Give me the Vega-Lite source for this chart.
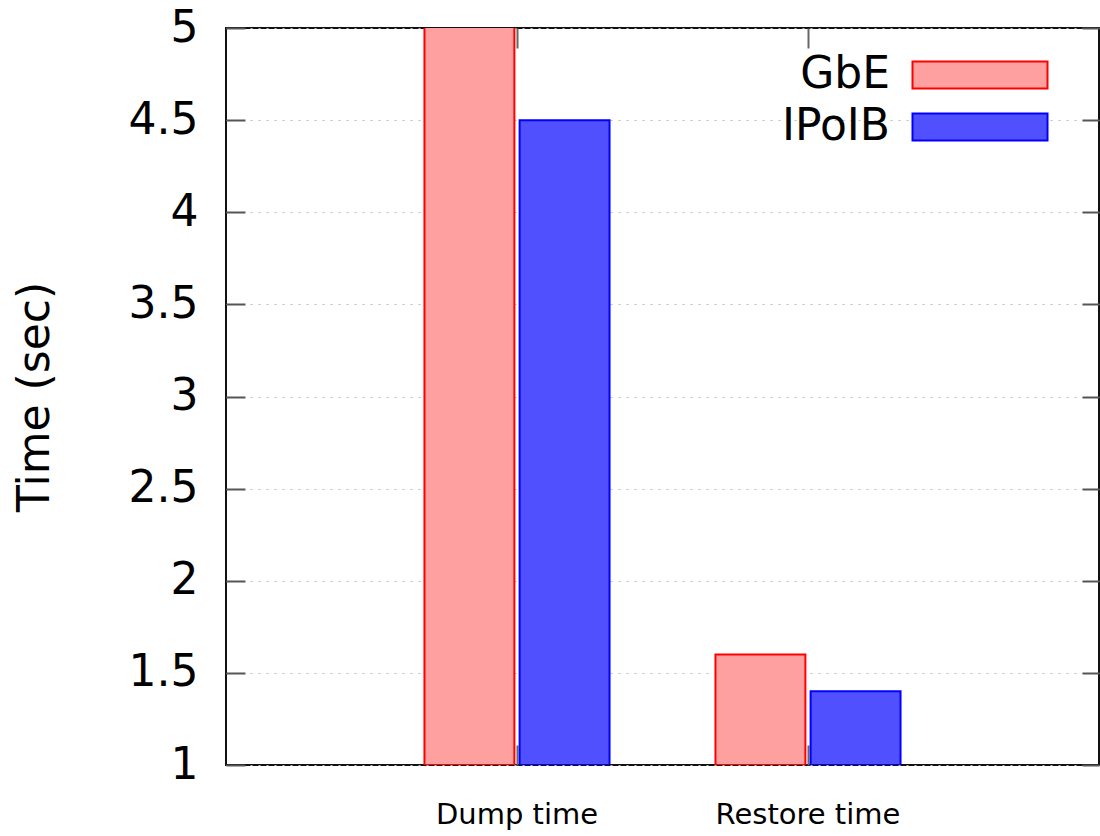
{
  "$schema": "https://vega.github.io/schema/vega-lite/v6.json",
  "width": 873,
  "height": 737,
  "autosize": {"type": "none"},
  "padding": {"left": 226, "top": 28, "right": 1, "bottom": 71},
  "background": "white",
  "config": {
    "view": {"stroke": "#111111", "strokeWidth": 2},
    "font": "DejaVu Sans"
  },
  "data": {
    "values": [
      {"category": "Dump time", "network": "GbE", "time": 5.3},
      {"category": "Dump time", "network": "IPoIB", "time": 4.5},
      {"category": "Restore time", "network": "GbE", "time": 1.6},
      {"category": "Restore time", "network": "IPoIB", "time": 1.4}
    ]
  },
  "resolve": {"axis": {"x": "independent", "y": "independent"}},
  "layer": [
    {
      "mark": {"type": "bar", "clip": true, "strokeWidth": 2, "fillOpacity": 1},
      "encoding": {
        "x": {
          "field": "category",
          "type": "nominal",
          "scale": {"paddingInner": 0.364, "paddingOuter": 0.682},
          "axis": {
            "orient": "bottom",
            "title": null,
            "domain": false,
            "tickSize": -20,
            "tickWidth": 2,
            "tickColor": "#666666",
            "labelFontSize": 29,
            "labelColor": "#000000",
            "labelPadding": 55,
            "labelAngle": 0,
            "labelLimit": 0
          }
        },
        "xOffset": {"field": "network", "type": "nominal", "scale": {"paddingInner": 0.055}},
        "y": {
          "field": "time",
          "type": "quantitative",
          "scale": {"domain": [1, 5], "nice": false, "zero": false},
          "axis": {
            "orient": "left",
            "values": [1, 1.5, 2, 2.5, 3, 3.5, 4, 4.5, 5],
            "format": "~g",
            "domain": false,
            "tickSize": -19,
            "tickWidth": 2,
            "tickColor": "#555555",
            "labelFontSize": 44,
            "labelColor": "#000000",
            "labelPadding": 47,
            "labelFlush": false,
            "labelOverlap": false,
            "grid": true,
            "gridDash": [2, 6],
            "gridColor": "#bbbbbb",
            "gridWidth": 1,
            "title": "Time (sec)",
            "titleFontSize": 44,
            "titleFontWeight": "normal",
            "titleColor": "#000000",
            "titleX": -191,
            "titleY": 368.5,
            "titleAngle": -90,
            "titleBaseline": "middle",
            "titleAlign": "center"
          }
        },
        "y2": {"datum": 1},
        "fill": {
          "field": "network",
          "type": "nominal",
          "scale": {"domain": ["GbE", "IPoIB"], "range": ["#ffa0a0", "#5050ff"]},
          "legend": {
            "orient": "none",
            "legendX": 732,
            "legendY": 25,
            "title": null,
            "padding": 0,
            "symbolType": "M-5,-1H5V1H-5Z",
            "symbolSize": 729,
            "symbolStrokeWidth": 2,
            "labelFontSize": 44,
            "labelColor": "#000000",
            "labelAlign": "right",
            "labelOffset": -112,
            "rowPadding": 8
          }
        },
        "stroke": {
          "field": "network",
          "type": "nominal",
          "scale": {"domain": ["GbE", "IPoIB"], "range": ["#ff0000", "#0000ff"]},
          "legend": {
            "orient": "none",
            "legendX": 732,
            "legendY": 25,
            "title": null,
            "padding": 0,
            "symbolType": "M-5,-1H5V1H-5Z",
            "symbolSize": 729,
            "symbolStrokeWidth": 2,
            "labelFontSize": 44,
            "labelColor": "#000000",
            "labelAlign": "right",
            "labelOffset": -112,
            "rowPadding": 8
          }
        }
      }
    },
    {
      "mark": {"type": "bar", "opacity": 0, "clip": true},
      "encoding": {
        "x": {
          "field": "category",
          "type": "nominal",
          "axis": {
            "orient": "top",
            "title": null,
            "domain": false,
            "labels": false,
            "tickSize": -20,
            "tickWidth": 2,
            "tickColor": "#666666"
          }
        },
        "xOffset": {"field": "network", "type": "nominal"},
        "y": {
          "field": "time",
          "type": "quantitative",
          "axis": {
            "orient": "right",
            "values": [1, 1.5, 2, 2.5, 3, 3.5, 4, 4.5, 5],
            "title": null,
            "domain": false,
            "labels": false,
            "grid": false,
            "tickSize": -17,
            "tickWidth": 2,
            "tickColor": "#555555"
          }
        },
        "y2": {"datum": 1}
      }
    }
  ]
}
